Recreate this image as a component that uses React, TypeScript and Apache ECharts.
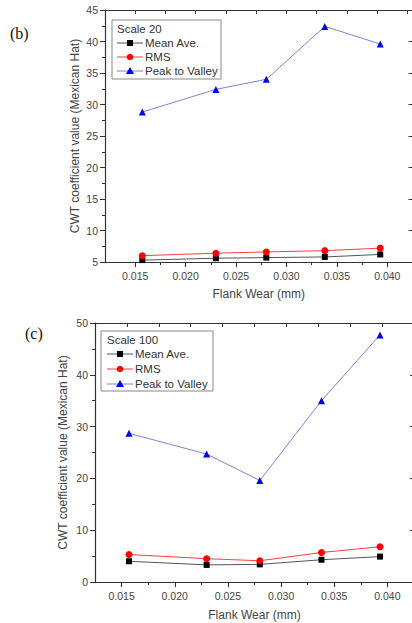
import React, { useEffect, useRef } from "react";
import * as echarts from "echarts";

const flankWear = [0.0157, 0.023, 0.028, 0.0338, 0.0393];

const meanAve20 = [5.3, 5.6, 5.7, 5.8, 6.2];
const rms20 = [6.0, 6.4, 6.6, 6.8, 7.2];
const peakToValley20 = [28.8, 32.4, 34.0, 42.4, 39.6];

const meanAve100 = [4.0, 3.3, 3.4, 4.3, 4.9];
const rms100 = [5.3, 4.5, 4.1, 5.7, 6.8];
const peakToValley100 = [28.7, 24.7, 19.6, 35.0, 47.7];

const xMajorTicks = [0.015, 0.02, 0.025, 0.03, 0.035, 0.04];
const xMinorTicks = [0.0175, 0.0225, 0.0275, 0.0325, 0.0375];
const topTicksB = [0.015, 0.018, 0.021, 0.024, 0.027, 0.03, 0.033, 0.036, 0.039, 0.042];
const topTicksC = [0.0155, 0.0185, 0.0215, 0.0245, 0.0275, 0.0305, 0.0335, 0.0365, 0.0395];

const seriesNames = ["Mean Ave.", "RMS", "Peak to Valley"];
const FONT = "Liberation Sans, Arial, sans-serif";
const AXIS = "#333";
const LABEL = "#444";

const pairs = (ys: number[]) => flankWear.map((x, i) => [x, ys[i]]);

function xAxesFor(grid: number, min: number, max: number, topTicks: number[], nameGap: number) {
  return [
    {
      type: "value", gridIndex: grid, min, max, position: "bottom",
      name: "Flank Wear (mm)", nameLocation: "middle", nameGap, nameMoveOverlap: false,
      nameTextStyle: { fontFamily: FONT, fontSize: 12, color: LABEL },
      axisLine: { show: true, onZero: false, lineStyle: { color: AXIS, width: 1.2 } },
      axisTick: { show: true, customValues: xMajorTicks, length: 5, lineStyle: { color: AXIS } },
      axisLabel: { customValues: xMajorTicks, formatter: (v: number) => v.toFixed(3), fontFamily: FONT, fontSize: 10.5, color: LABEL, margin: 8 },
      splitLine: { show: false },
    },
    {
      type: "value", gridIndex: grid, min, max, position: "bottom",
      axisLine: { show: false, onZero: false },
      axisTick: { show: true, customValues: xMinorTicks, length: 3, lineStyle: { color: AXIS } },
      axisLabel: { show: false },
      splitLine: { show: false },
    },
    {
      type: "value", gridIndex: grid, min, max, position: "top",
      axisLine: { show: true, onZero: false, lineStyle: { color: AXIS, width: 1 } },
      axisTick: { show: true, inside: true, customValues: topTicks, length: 4, lineStyle: { color: AXIS } },
      axisLabel: { show: false },
      splitLine: { show: false },
    },
  ];
}

function yAxesFor(grid: number, min: number, max: number, interval: number, nameGap: number) {
  return [
    {
      type: "value", gridIndex: grid, min, max, interval, position: "left",
      name: "CWT coefficient value (Mexican Hat)", nameLocation: "middle", nameGap, nameMoveOverlap: false,
      nameTextStyle: { fontFamily: FONT, fontSize: 12, color: LABEL },
      axisLine: { show: true, onZero: false, lineStyle: { color: AXIS, width: 1.2 } },
      axisTick: { show: true, length: 5, lineStyle: { color: AXIS } },
      minorTick: { show: true, splitNumber: 2, length: 3, lineStyle: { color: AXIS } },
      axisLabel: { fontFamily: FONT, fontSize: 10.5, color: LABEL, margin: 7 },
      splitLine: { show: false },
    },
    {
      type: "value", gridIndex: grid, min, max, interval, position: "right",
      axisLine: { show: true, onZero: false, lineStyle: { color: AXIS } },
      axisTick: { show: true, inside: true, length: 4, lineStyle: { color: AXIS } },
      axisLabel: { show: false },
      splitLine: { show: false },
    },
  ];
}

function seriesFor(xIdx: number, yIdx: number, mean: number[], rms: number[], ptv: number[]) {
  const common = { type: "line", xAxisIndex: xIdx, yAxisIndex: yIdx, symbolSize: 7, z: 3 };
  return [
    { ...common, name: seriesNames[0], data: pairs(mean), symbol: "rect", symbolSize: 6,
      itemStyle: { color: "#000" }, lineStyle: { color: "#555", width: 1 } },
    { ...common, name: seriesNames[1], data: pairs(rms), symbol: "circle",
      itemStyle: { color: "#ff0000" }, lineStyle: { color: "#ff4040", width: 1 } },
    { ...common, name: seriesNames[2], data: pairs(ptv), symbol: "triangle",
      itemStyle: { color: "#0000ee" }, lineStyle: { color: "#8080e0", width: 1 } },
  ];
}

function legendGraphic(x: number, y: number, w: number, h: number, title: string, rowYs: number[], lineX0: number, textX: number) {
  const lineX1 = lineX0 + 26;
  const mx = lineX0 + 13;
  const els: any[] = [
    { type: "rect", shape: { x, y, width: w, height: h }, style: { fill: "#fff", stroke: "#888", lineWidth: 1 }, z: 10 },
    { type: "text", x: lineX0, y: rowYs[0], style: { text: title, fontFamily: FONT, fontSize: 11.5, fill: "#333", verticalAlign: "middle" }, z: 11 },
  ];
  const colors = ["#555", "#ff4040", "#8080e0"];
  const markColors = ["#000", "#ff0000", "#0000ee"];
  seriesNames.forEach((name, i) => {
    const yy = rowYs[i + 1];
    els.push({ type: "line", shape: { x1: lineX0, y1: yy, x2: lineX1, y2: yy }, style: { stroke: colors[i], lineWidth: 1 }, z: 11 });
    if (i === 0) els.push({ type: "rect", shape: { x: mx - 3, y: yy - 3, width: 6, height: 6 }, style: { fill: markColors[i] }, z: 12 });
    if (i === 1) els.push({ type: "circle", shape: { cx: mx, cy: yy, r: 3.3 }, style: { fill: markColors[i] }, z: 12 });
    if (i === 2) els.push({ type: "polygon", shape: { points: [[mx, yy - 4], [mx - 4, yy + 3], [mx + 4, yy + 3]] }, style: { fill: markColors[i] }, z: 12 });
    els.push({ type: "text", x: textX, y: yy, style: { text: name, fontFamily: FONT, fontSize: 11.5, fill: "#333", verticalAlign: "middle" }, z: 11 });
  });
  return els;
}

export default function App() {
  const ref = useRef<HTMLDivElement>(null);
  useEffect(() => {
    document.body.style.margin = "0";
    document.body.style.overflow = "hidden";
    const chart = echarts.init(ref.current!, null, { renderer: "svg" });
    chart.setOption({
      animation: false,
      backgroundColor: "#fff",
      grid: [
        { left: 105, top: 10, width: 307.5, height: 252 },
        { left: 95, top: 323, width: 319, height: 259 },
      ],
      xAxis: [...xAxesFor(0, 0.012, 0.0425, topTicksB, 26), ...xAxesFor(1, 0.0125, 0.0425, topTicksC, 27)],
      yAxis: [...yAxesFor(0, 5, 45, 5, 24), ...yAxesFor(1, 0, 50, 10, 26)],
      series: [
        ...seriesFor(0, 0, meanAve20, rms20, peakToValley20),
        ...seriesFor(3, 2, meanAve100, rms100, peakToValley100),
      ],
      graphic: [
        { type: "text", x: 10, y: 33, style: { text: "(b)", fontFamily: "Liberation Serif, serif", fontSize: 16, fill: "#111", verticalAlign: "middle" } },
        { type: "text", x: 25, y: 333, style: { text: "(c)", fontFamily: "Liberation Serif, serif", fontSize: 16, fill: "#111", verticalAlign: "middle" } },
        ...legendGraphic(112, 20, 109, 59, "Scale 20", [29, 43, 57, 71], 117, 145),
        ...legendGraphic(101, 331, 112, 60, "Scale 100", [340, 354, 369, 384], 107, 135),
      ],
    });
    return () => chart.dispose();
  }, []);
  return <div ref={ref} style={{ width: 416, height: 623 }} />;
}
